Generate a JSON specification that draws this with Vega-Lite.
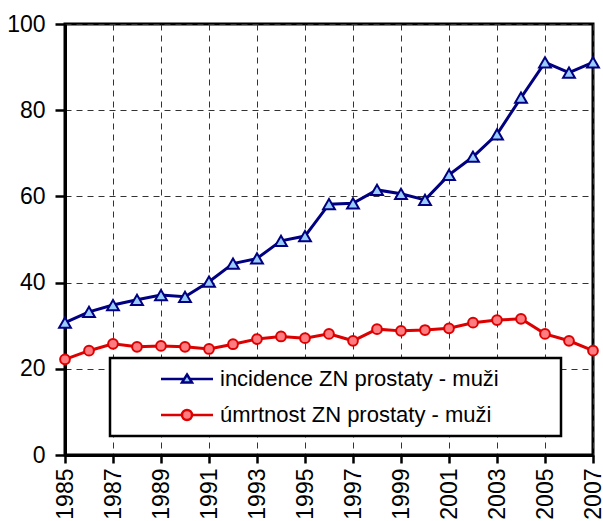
{
  "$schema": "https://vega.github.io/schema/vega-lite/v6.json",
  "autosize": {"type": "none"},
  "width": 528,
  "height": 431,
  "padding": {"left": 65, "top": 24, "right": 10, "bottom": 66},
  "background": "white",
  "config": {
    "view": {"stroke": "black", "strokeWidth": 3},
    "font": "Liberation Sans",
    "axis": {
      "domainColor": "black", "domainWidth": 3,
      "tickColor": "black", "tickWidth": 2.5,
      "labelFont": "Liberation Sans", "labelFontSize": 23, "labelColor": "black",
      "grid": true, "gridColor": "#333333", "gridWidth": 1, "gridDash": [6, 5],
      "title": null
    }
  },
  "data": {
    "values": [
      {"year": 1985, "series": "incidence ZN prostaty - muži", "value": 30.7},
      {"year": 1986, "series": "incidence ZN prostaty - muži", "value": 33.2},
      {"year": 1987, "series": "incidence ZN prostaty - muži", "value": 34.8},
      {"year": 1988, "series": "incidence ZN prostaty - muži", "value": 36.0},
      {"year": 1989, "series": "incidence ZN prostaty - muži", "value": 37.1},
      {"year": 1990, "series": "incidence ZN prostaty - muži", "value": 36.7},
      {"year": 1991, "series": "incidence ZN prostaty - muži", "value": 40.2},
      {"year": 1992, "series": "incidence ZN prostaty - muži", "value": 44.4},
      {"year": 1993, "series": "incidence ZN prostaty - muži", "value": 45.6},
      {"year": 1994, "series": "incidence ZN prostaty - muži", "value": 49.7},
      {"year": 1995, "series": "incidence ZN prostaty - muži", "value": 50.8},
      {"year": 1996, "series": "incidence ZN prostaty - muži", "value": 58.2},
      {"year": 1997, "series": "incidence ZN prostaty - muži", "value": 58.4},
      {"year": 1998, "series": "incidence ZN prostaty - muži", "value": 61.5},
      {"year": 1999, "series": "incidence ZN prostaty - muži", "value": 60.6},
      {"year": 2000, "series": "incidence ZN prostaty - muži", "value": 59.2},
      {"year": 2001, "series": "incidence ZN prostaty - muži", "value": 65.0},
      {"year": 2002, "series": "incidence ZN prostaty - muži", "value": 69.2},
      {"year": 2003, "series": "incidence ZN prostaty - muži", "value": 74.4},
      {"year": 2004, "series": "incidence ZN prostaty - muži", "value": 82.9},
      {"year": 2005, "series": "incidence ZN prostaty - muži", "value": 91.1},
      {"year": 2006, "series": "incidence ZN prostaty - muži", "value": 88.7},
      {"year": 2007, "series": "incidence ZN prostaty - muži", "value": 91.1},
      {"year": 1985, "series": "úmrtnost ZN prostaty - muži", "value": 22.2},
      {"year": 1986, "series": "úmrtnost ZN prostaty - muži", "value": 24.2},
      {"year": 1987, "series": "úmrtnost ZN prostaty - muži", "value": 25.8},
      {"year": 1988, "series": "úmrtnost ZN prostaty - muži", "value": 25.1},
      {"year": 1989, "series": "úmrtnost ZN prostaty - muži", "value": 25.3},
      {"year": 1990, "series": "úmrtnost ZN prostaty - muži", "value": 25.1},
      {"year": 1991, "series": "úmrtnost ZN prostaty - muži", "value": 24.6},
      {"year": 1992, "series": "úmrtnost ZN prostaty - muži", "value": 25.7},
      {"year": 1993, "series": "úmrtnost ZN prostaty - muži", "value": 26.9},
      {"year": 1994, "series": "úmrtnost ZN prostaty - muži", "value": 27.5},
      {"year": 1995, "series": "úmrtnost ZN prostaty - muži", "value": 27.1},
      {"year": 1996, "series": "úmrtnost ZN prostaty - muži", "value": 28.1},
      {"year": 1997, "series": "úmrtnost ZN prostaty - muži", "value": 26.5},
      {"year": 1998, "series": "úmrtnost ZN prostaty - muži", "value": 29.2},
      {"year": 1999, "series": "úmrtnost ZN prostaty - muži", "value": 28.8},
      {"year": 2000, "series": "úmrtnost ZN prostaty - muži", "value": 29.0},
      {"year": 2001, "series": "úmrtnost ZN prostaty - muži", "value": 29.4},
      {"year": 2002, "series": "úmrtnost ZN prostaty - muži", "value": 30.7},
      {"year": 2003, "series": "úmrtnost ZN prostaty - muži", "value": 31.3},
      {"year": 2004, "series": "úmrtnost ZN prostaty - muži", "value": 31.6},
      {"year": 2005, "series": "úmrtnost ZN prostaty - muži", "value": 28.1},
      {"year": 2006, "series": "úmrtnost ZN prostaty - muži", "value": 26.5},
      {"year": 2007, "series": "úmrtnost ZN prostaty - muži", "value": 24.2}
    ]
  },
  "encoding": {
    "x": {
      "field": "year", "type": "quantitative",
      "scale": {"domain": [1985, 2007], "nice": false, "zero": false},
      "axis": {
        "values": [1985, 1987, 1989, 1991, 1993, 1995, 1997, 1999, 2001, 2003, 2005, 2007],
        "format": "d", "labelAngle": 270, "tickSize": 8, "labelPadding": 5,
        "labelOverlap": false, "labelFlush": false, "labelBound": false
      }
    },
    "y": {
      "field": "value", "type": "quantitative",
      "scale": {"domain": [0, 100], "nice": false},
      "axis": {"values": [0, 20, 40, 60, 80, 100], "tickSize": 10, "labelPadding": 10, "labelFlush": false}
    }
  },
  "layer": [
    {
      "mark": {"type": "line", "strokeWidth": 3},
      "encoding": {
        "color": {
          "field": "series", "type": "nominal",
          "scale": {"domain": ["incidence ZN prostaty - muži", "úmrtnost ZN prostaty - muži"], "range": ["#000080", "#DD0000"]},
          "legend": {
            "title": " ", "titleOrient": "right", "titlePadding": 52, "titleFontSize": 22,
            "orient": "none", "legendX": 45, "legendY": 334,
            "padding": 10, "strokeColor": "black", "fillColor": "white",
            "labelFont": "Liberation Sans", "labelFontSize": 22, "labelColor": "black", "labelLimit": 500,
            "symbolSize": 4, "symbolOffset": 56, "labelOffset": 22, "rowPadding": 14,
            "symbolStrokeWidth": 2.5,
            "encode": {
              "legend": {"update": {"strokeWidth": {"value": 2.5}}},
              "symbols": {
                "update": {
                  "shape": {"signal": "datum.value == 'incidence ZN prostaty - muži' ? 'M-26,0L-2.8,0M2.8,0L26,0M0,-4.5L5,3.5L-5,3.5Z' : 'M-26,0L-5,0M5,0L26,0M-5,0A5,5 0 1,0 5,0A5,5 0 1,0 -5,0Z'"},
                  "fill": {"signal": "datum.value == 'incidence ZN prostaty - muži' ? '#99CCFF' : '#FF7C80'"},
                  "stroke": {"signal": "datum.value == 'incidence ZN prostaty - muži' ? '#000080' : '#DD0000'"},
                  "strokeWidth": {"value": 2.5},
                  "opacity": {"value": 1}
                }
              }
            }
          }
        }
      }
    },
    {
      "transform": [{"filter": "datum.series == 'incidence ZN prostaty - muži'"}],
      "mark": {"type": "point", "shape": "triangle-up", "size": 140, "filled": true, "fill": "#99CCFF", "stroke": "#000080", "strokeWidth": 2, "opacity": 1, "fillOpacity": 1}
    },
    {
      "transform": [{"filter": "datum.series == 'úmrtnost ZN prostaty - muži'"}],
      "mark": {"type": "point", "shape": "circle", "size": 95, "filled": true, "fill": "#FF7C80", "stroke": "#DD0000", "strokeWidth": 2, "opacity": 1, "fillOpacity": 1}
    }
  ]
}
